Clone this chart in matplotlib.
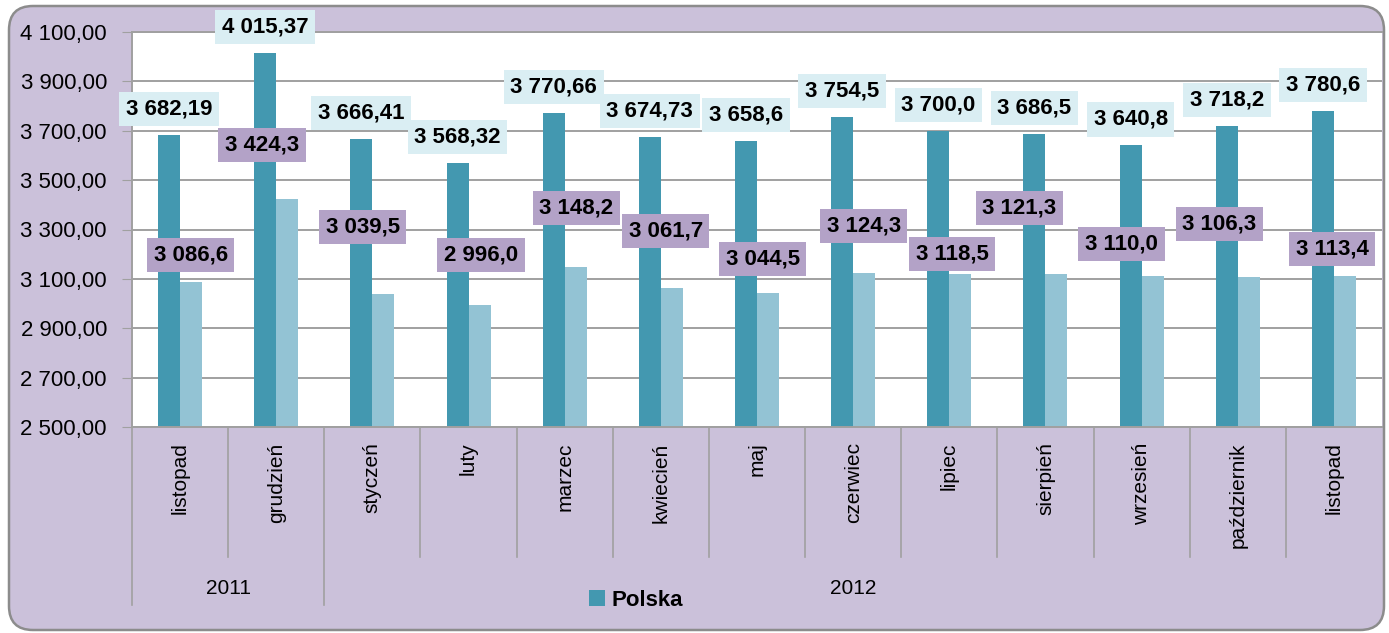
import matplotlib.pyplot as plt
from matplotlib.patches import FancyBboxPatch, Patch
from matplotlib.transforms import IdentityTransform, blended_transform_factory

# data
months = ['listopad', 'grudzień', 'styczeń', 'luty', 'marzec', 'kwiecień', 'maj',
          'czerwiec', 'lipiec', 'sierpień', 'wrzesień', 'październik', 'listopad']
years = ['2011', '2012']
year_spans = [(0, 1), (2, 12)]
polska = [3682.19, 4015.37, 3666.41, 3568.32, 3770.66, 3674.73, 3658.6,
          3754.5, 3700.0, 3686.5, 3640.8, 3718.2, 3780.6]
polska_decimals = [2, 2, 2, 2, 2, 2, 1, 1, 1, 1, 1, 1, 1]
region = [3086.6, 3424.3, 3039.5, 2996.0, 3148.2, 3061.7, 3044.5,
          3124.3, 3118.5, 3121.3, 3110.0, 3106.3, 3113.4]
region_decimals = [1] * 13

# hand placed label positions for the second series (x offset in categories, y in data units)
region_label_dx = [0.11, -0.15, -0.10, 0.13, 0.12, 0.05, 0.06, 0.11, 0.03, -0.27, -0.21, -0.19, -0.02]
region_label_y = [3197, 3642, 3310, 3197, 3387, 3294, 3180, 3314, 3201, 3387, 3241, 3322, 3221]

DARK = '#4398B0'
LIGHT = '#93C3D4'
BG = '#CBC1DA'
GRID = '#A0A0A0'
FONT = 'Liberation Sans'


def fmt(v, d):
    s = f'{v:,.{d}f}'
    return s.replace(',', ' ').replace('.', ',')


plt.rcParams['font.family'] = [FONT, 'DejaVu Sans']

fig = plt.figure(figsize=(13.89, 6.33), dpi=100, facecolor='white')
frame = FancyBboxPatch((9, 3), 1375, 624, boxstyle='round,pad=0,rounding_size=24',
                       transform=IdentityTransform(), fc=BG, ec='#8C8C8C', lw=1.8, zorder=0)
fig.patches.append(frame)

ax = fig.add_axes([132 / 1389, 1 - 427 / 633, 1250 / 1389, 395 / 633])
ax.set_facecolor('white')
ax.set_zorder(1)

n = len(months)
x = list(range(n))
w = 0.229
dark_bars = ax.bar([i - w / 2 for i in x], polska, width=w, color=DARK, zorder=2)
ax.bar([i + w / 2 for i in x], region, width=w, color=LIGHT, zorder=2)

ax.set_xlim(-0.5, n - 0.5)
ax.set_ylim(2500, 4100)
yt = list(range(2500, 4101, 200))
ax.set_yticks(yt)
ax.set_yticklabels([fmt(v, 2) for v in yt], fontsize=16)
ax.yaxis.grid(True, color=GRID, lw=1.4)
ax.set_axisbelow(True)
ax.tick_params(axis='y', length=7, color=GRID, pad=11)

ax.set_xticks(x)
ax.set_xticklabels(months, rotation=90, fontsize=15, va='top')
ax.tick_params(axis='x', length=0, pad=11)

for side in ['right']:
    ax.spines[side].set_visible(False)
for side in ['left', 'bottom', 'top']:
    ax.spines[side].set_color(GRID)
    ax.spines[side].set_linewidth(1.4)

# labels for Polska
for i, v in enumerate(polska):
    ax.annotate(fmt(v, polska_decimals[i]), (i - w / 2, v), xytext=(0, 26),
                textcoords='offset pixels', ha='center', va='center',
                fontsize=16, fontweight='bold', zorder=5,
                bbox=dict(boxstyle='square,pad=0.3', fc='#DAEEF3', ec='none'))

# labels for the second series
for i, v in enumerate(region):
    ax.text(i + region_label_dx[i], region_label_y[i], fmt(v, region_decimals[i]),
            ha='center', va='center', fontsize=16, fontweight='bold', zorder=6,
            bbox=dict(boxstyle='square,pad=0.3', fc='#B3A2C7', ec='none'))

# category separators
tr = blended_transform_factory(ax.transData, ax.transAxes)
year_starts = [s for s, e in year_spans]
for k in range(n):
    xb = k - 0.5
    bottom = -0.4506 if k in year_starts else -0.329
    ax.plot([xb, xb], [0, bottom], color=GRID, lw=1.2, transform=tr, clip_on=False)

for (s, e), yr in zip(year_spans, years):
    ax.text((s + e) / 2, -0.408, yr, transform=tr, ha='center', va='center', fontsize=15)

ax.legend([dark_bars], ['Polska'], loc='center', bbox_to_anchor=(636 / 1389, 1 - 600 / 633),
          bbox_transform=fig.transFigure, frameon=False, handlelength=0.7, handleheight=0.7,
          handletextpad=0.3, prop={'family': FONT, 'weight': 'bold', 'size': 16})

fig.savefig('out.png', dpi=100, facecolor='white')
